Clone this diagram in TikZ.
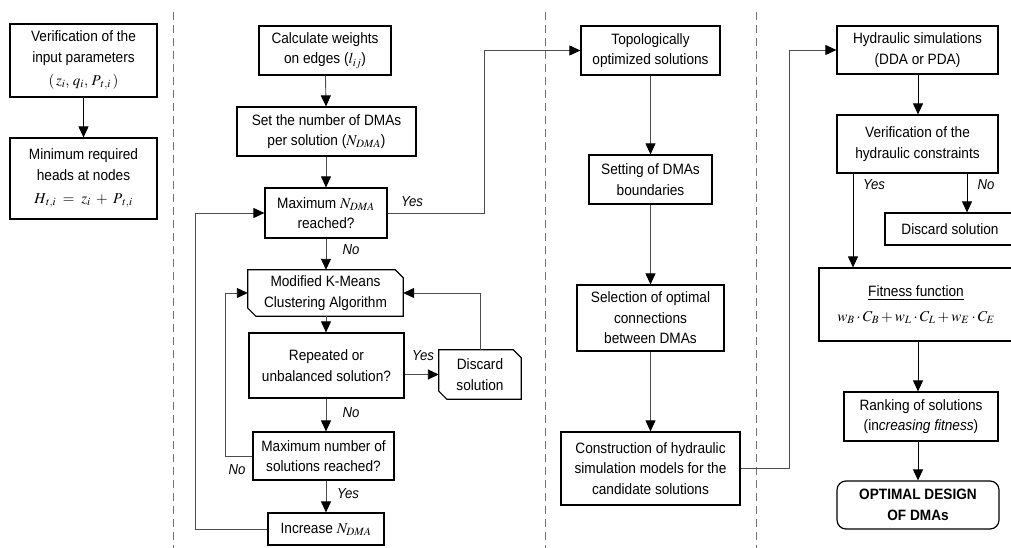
\documentclass[tikz,border=0pt]{standalone}
\usepackage{mathptmx}
\usepackage{fontspec}
\setmainfont{Liberation Sans}[FakeStretch=0.91]
\usetikzlibrary{arrows.meta,calc}
\begin{document}
\begin{tikzpicture}[x=1pt,y=-1pt,
  box/.style={draw, line width=1.2pt, align=center, inner sep=1pt,
    font=\fontsize{15}{20.5}\selectfont},
  cutbox/.style={align=center, inner sep=1pt, font=\fontsize{15}{20.5}\selectfont},
  conn/.style={line width=0.9pt, draw=black!70,
    -{Triangle[length=11pt,width=10pt,color=black]}},
  lab/.style={font=\fontsize{14.5}{16}\selectfont\itshape, inner sep=0pt},
  sep/.style={draw=black!55, line width=1pt, dash pattern=on 8pt off 5pt}]
\clip (0,0) rectangle (1011,548);
\useasboundingbox (0,0) rectangle (1011,548);
\fill[white] (0,0) rectangle (1011,548);

% separators
\draw[sep] (173,12) -- (173,548);
\draw[sep] (545,12) -- (545,548);
\draw[sep] (756,12) -- (756,548);

% column 1
\node[box, minimum width=147, minimum height=73] (v1) at (83.5,60.5)
  {Verification of the\\input parameters\\[3pt]$(\,z_i,\, q_i,\, P_{\mkern3mu t,i}\,)$};
\node[box, minimum width=147, minimum height=81] (v2) at (83.5,178.5)
  {Minimum required\\heads at nodes\\[3pt]$H_{\mkern2mu t,i}\;=\;z_i\;+\;P_{\mkern3mu t,i}$};
\draw[conn, draw=black] (v1) -- (v2);

% column 2
\node[box, minimum width=132, minimum height=49] (calc) at (325,50.5)
  {Calculate weights\\on edges ($l_{ij}$)};
\node[box, minimum width=179, minimum height=49] (setn) at (326.5,131.5)
  {Set the number of DMAs\\per solution ($N_{DMA}$)};
\node[box, minimum width=122, minimum height=50] (maxn) at (326,213)
  {Maximum $N_{DMA}$\\reached?};
\node[cutbox, minimum width=155, minimum height=46] (kmeans) at (325.5,293)
  {Modified K-Means\\Clustering Algorithm};
\draw[line width=1.2pt] (kmeans.north west) -- ([xshift=-8pt]kmeans.north east)
  -- ([yshift=-8pt]kmeans.north east) -- (kmeans.south east)
  -- ([xshift=8pt]kmeans.south west) -- ([yshift=8pt]kmeans.south west) -- cycle;
\node[box, minimum width=155, minimum height=65] (rep) at (326.5,365.5)
  {Repeated or\\unbalanced solution?};
\node[cutbox, minimum width=82, minimum height=49] (disc1) at (480,374.5)
  {Discard\\solution};
\draw[line width=1.2pt] (disc1.north west) -- ([xshift=-8pt]disc1.north east)
  -- ([yshift=-8pt]disc1.north east) -- (disc1.south east)
  -- ([xshift=8pt]disc1.south west) -- ([yshift=8pt]disc1.south west) -- cycle;
\node[box, minimum width=141, minimum height=48] (maxsol) at (323.5,456)
  {Maximum number of\\solutions reached?};
\node[box, minimum width=116, minimum height=32] (incr) at (326,529)
  {Increase $N_{DMA}$};

\draw[conn] (calc) -- (setn);
\draw[conn] (setn.south -| maxn.north) -- (maxn.north);
\draw[conn] (maxn.south) -- (maxn.south |- kmeans.north);
\draw[conn] (kmeans.south -| maxn.south) -- (maxn.south |- rep.north);
\draw[conn] (rep.south -| maxn.south) -- (maxn.south |- maxsol.north);
\draw[conn] (maxsol.south -| maxn.south) -- (maxn.south |- incr.north);
\draw[conn] (rep.east |- disc1.west) -- (disc1.west);
\draw[conn] (disc1.north) |- (kmeans.east);
\coordinate (lk) at (225,456);
\draw[conn] (maxsol.west) -- (lk) |- (kmeans.west);
\coordinate (li) at (195,529);
\draw[conn] (incr.west) -- (li) |- (maxn.west);

% column 3
\node[box, minimum width=139, minimum height=49] (topo) at (650.5,50.5)
  {Topologically\\optimized solutions};
\node[box, minimum width=123, minimum height=49] (setb) at (650.5,179.5)
  {Setting of DMAs\\boundaries};
\node[box, minimum width=147, minimum height=66] (sel) at (650.5,318)
  {Selection of optimal\\connections\\between DMAs};
\node[box, minimum width=179, minimum height=73] (cons) at (650.5,468.5)
  {Construction of hydraulic\\simulation models for the\\candidate solutions};
\coordinate (ry) at (484,213);
\draw[conn] (maxn.east) -- (ry) |- (topo.west);
\draw[conn] (topo) -- (setb);
\draw[conn] (setb) -- (sel);
\draw[conn] (sel) -- (cons);

% column 4
\node[box, minimum width=161, minimum height=48] (hyd) at (917.5,50)
  {Hydraulic simulations\\(DDA or PDA)};
\node[box, minimum width=161, minimum height=58] (verh) at (917.5,144)
  {Verification of the\\hydraulic constraints};
\node[box, minimum width=130, minimum height=32] (disc2) at (950,229)
  {Discard solution};
\node[box, minimum width=194, minimum height=73] (fit) at (916,304.5)
  {\underline{Fitness function}\\[4pt]$w_B\cdot C_B+w_L\cdot C_L+w_E\cdot C_E$};
\node[box, minimum width=154, minimum height=49] (rank) at (921,416.5)
  {Ranking of solutions\\(in\textit{creasing fitness})};
\node[box, rounded corners=9pt, minimum width=162, minimum height=48] (opt) at (918,505)
  {\textbf{OPTIMAL DESIGN}\\\textbf{OF DMAs}};
\coordinate (cy) at (789,468.5);
\draw[conn] (cons.east) -- (cy) |- (hyd.west);
\draw[conn, draw=black] (hyd.south -| 918,0) -- (918,0 |- verh.north);
\coordinate (yx) at (853,0);
\coordinate (nx) at (967,0);
\draw[conn, draw=black] (verh.south -| yx) -- (yx |- fit.north);
\draw[conn, draw=black] (verh.south -| nx) -- (nx |- disc2.north);
\draw[conn, draw=black] (fit.south -| 918,0) -- (918,0 |- rank.north);
\draw[conn, draw=black] (rank.south -| 918,0) -- (918,0 |- opt.north);

% labels
\node[lab] (l1) at (412,202) {Yes};
\node[lab] (l2) at (351,250) {No};
\node[lab] (l3) at (423,356) {Yes};
\node[lab] (l4) at (351,413) {No};
\node[lab] (l5) at (237,470) {No};
\node[lab] (l6) at (348,494) {Yes};
\node[lab] (l7) at (874,185) {Yes};
\node[lab] (l8) at (986,185) {No};
\end{tikzpicture}
\end{document}
